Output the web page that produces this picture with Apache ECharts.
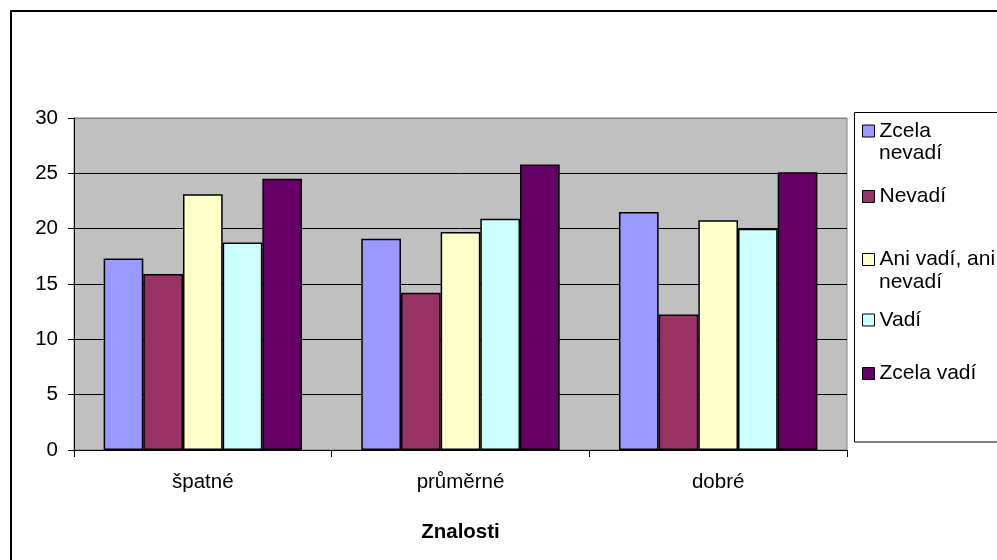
<!DOCTYPE html>
<html>
<head>
<meta charset="utf-8">
<script src="https://cdn.jsdelivr.net/npm/echarts@6/dist/echarts.min.js"></script>
<style>html,body{margin:0;padding:0;background:#fff}#c{width:997px;height:560px}</style>
</head>
<body>
<div id="c"></div>
<script>
var categories = ['špatné', 'průměrné', 'dobré'];
var seriesNames = ['Zcela nevadí', 'Nevadí', 'Ani vadí, ani nevadí', 'Vadí', 'Zcela vadí'];
var legendLabels = ['Zcela', 'Nevadí', 'Ani vadí, ani', 'Vadí', 'Zcela vadí'];
var legendSecondLines = ['nevadí', '', 'nevadí', '', ''];
var zcelaNevadi = [17.3, 19.1, 21.5];
var nevadi = [15.9, 14.2, 12.25];
var aniAni = [23.1, 19.7, 20.75];
var vadi = [18.75, 20.9, 20.0];
var zcelaVadi = [24.5, 25.8, 25.1];
var yTicks = { min: 0, max: 30, interval: 5 };
var axisTitle = 'Znalosti';

var values = [zcelaNevadi, nevadi, aniAni, vadi, zcelaVadi];
var colors = ['#9999FF', '#993366', '#FFFFCC', '#CCFFFF', '#660066'];
var legendCenters = [131, 196.5, 259.5, 320, 373.5];
var FONT = 'Liberation Sans, Arial, sans-serif';
var FS = 20.5;
var LFS = 21;

var chart = echarts.init(document.getElementById('c'), null, { renderer: 'canvas' });

var series = seriesNames.map(function (n, i) {
  return {
    name: n,
    type: 'bar',
    data: values[i],
    barGap: '0%',
    barCategoryGap: '23%',
    itemStyle: { color: colors[i], borderColor: '#000', borderWidth: 1.5 },
    emphasis: { disabled: true },
    animation: false
  };
});

var legends = seriesNames.map(function (n, i) {
  return {
    data: [n],
    left: 862,
    top: legendCenters[i] - 11,
    padding: 0,
    itemWidth: 12,
    itemHeight: 12,
    icon: 'rect',
    selectedMode: false,
    formatter: function () { return legendLabels[i]; },
    textStyle: { fontFamily: FONT, fontSize: LFS, color: '#000', lineHeight: 22 },
    itemStyle: { borderColor: '#000', borderWidth: 1 }
  };
});

var graphics = [
  { type: 'rect', shape: { x: 11, y: 11, width: 1200, height: 800 }, style: { fill: 'none', stroke: '#000', lineWidth: 2 }, z: -10, silent: true },
  { type: 'rect', shape: { x: 854.5, y: 112.5, width: 300, height: 329.5 }, style: { fill: '#fff', stroke: '#000', lineWidth: 1 }, z: -5, silent: true }
];
legendSecondLines.forEach(function (t, i) {
  if (t) {
    graphics.push({ type: 'text', left: 879, top: legendCenters[i] + 12, style: { text: t, fontFamily: FONT, fontSize: LFS, fill: '#000' }, silent: true });
  }
});

chart.setOption({
  animation: false,
  backgroundColor: '#fff',
  textStyle: { fontFamily: FONT },
  graphic: graphics,
  legend: legends,
  grid: { left: 74, right: 150, top: 118, bottom: 110, show: true, backgroundColor: '#C0C0C0', borderColor: '#808080', borderWidth: 1, containLabel: false },
  xAxis: {
    type: 'category',
    data: categories,
    name: axisTitle,
    nameLocation: 'middle',
    nameGap: 72,
    nameTextStyle: { fontFamily: FONT, fontSize: FS, fontWeight: 'bold', color: '#000' },
    axisLine: { lineStyle: { color: '#000', width: 1 } },
    axisTick: { show: true, length: 7, lineStyle: { color: '#000' } },
    axisLabel: { fontFamily: FONT, fontSize: FS, color: '#000', margin: 22 },
    splitLine: { show: false }
  },
  yAxis: {
    type: 'value',
    min: yTicks.min,
    max: yTicks.max,
    interval: yTicks.interval,
    axisLine: { show: true, lineStyle: { color: '#000', width: 1 } },
    axisTick: { show: true, length: 6, lineStyle: { color: '#000' } },
    axisLabel: { fontFamily: FONT, fontSize: FS, color: '#000', margin: 16 },
    splitLine: { show: true, lineStyle: { color: ['#000', '#000', '#000', '#000', '#000', '#000', '#808080'], width: 1 } }
  },
  series: series
});
</script>
</body>
</html>
